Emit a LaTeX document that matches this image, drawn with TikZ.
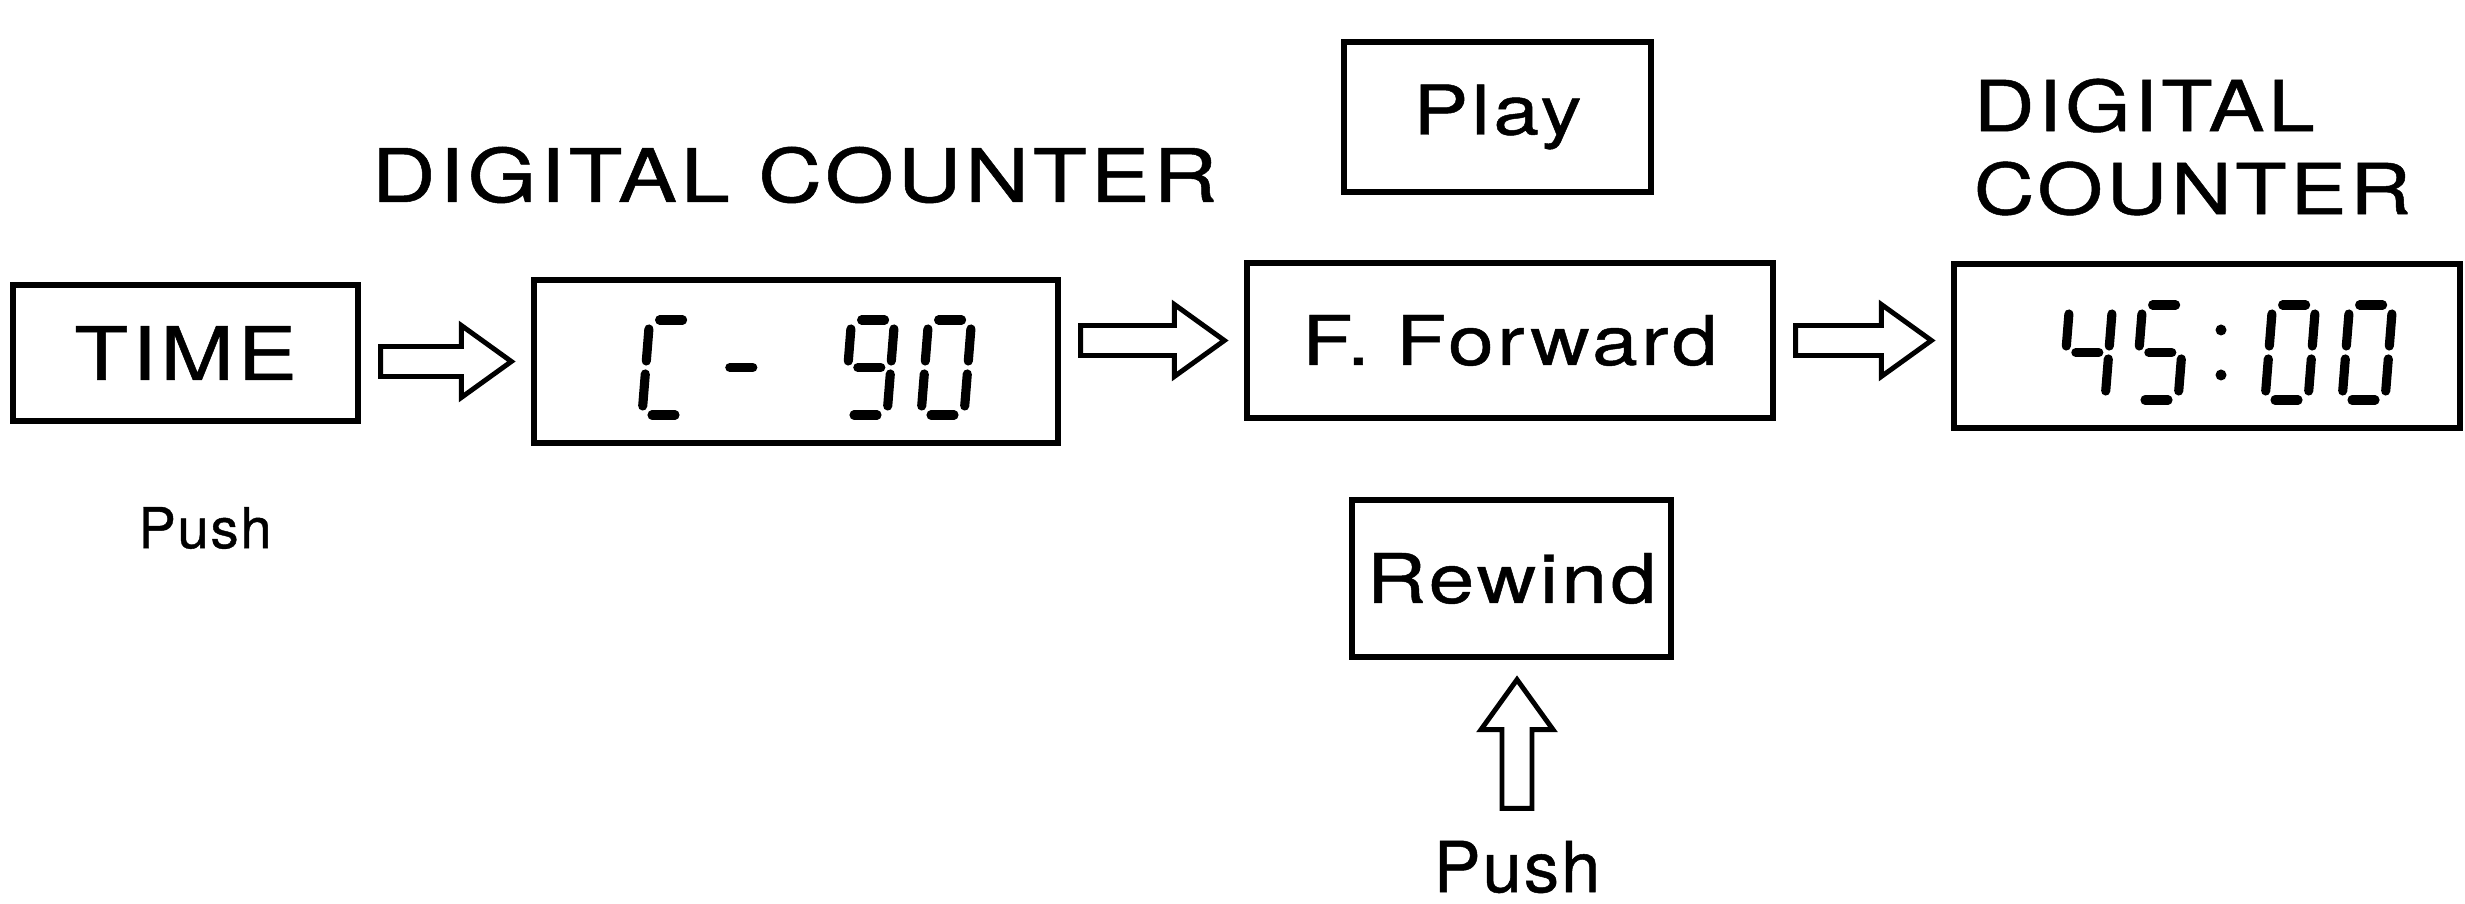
\documentclass[tikz,border=0pt]{standalone}
\usepackage{fontspec}
\setmainfont[FakeStretch=1.2, LetterSpace=5, FakeBold=0.7]{TeX Gyre Heros}
\newfontfamily\plainfont[LetterSpace=3, FakeBold=0.7]{TeX Gyre Heros}
\usetikzlibrary{calc}

% seven segment parts of one digit
\newcommand\segA{(0.1,0.95) -- (0.33,0.95)}
\newcommand\segB{(0.43,0.86) -- (0.43,0.54)}
\newcommand\segC{(0.43,0.41) -- (0.43,0.09)}
\newcommand\segD{(0.1,0) -- (0.33,0)}
\newcommand\segE{(0,0.41) -- (0,0.09)}
\newcommand\segF{(0,0.86) -- (0,0.54)}
\newcommand\segG{(0.1,0.475) -- (0.33,0.475)}
\newcommand\segdigit[2]{%
  \begin{scope}[shift={#1}, xslant=0.08]
    \foreach \s in {#2} {\draw[seg] \s;}
  \end{scope}}

\begin{document}
\begin{tikzpicture}[every node/.style={font=\fontsize{19.5}{24}\selectfont},
    panel/.style={draw, line width=1.5pt, inner sep=0pt},
    seg/.style={line width=2.6pt, line cap=round},
    fat/.style={line width=1.4pt, to path={
        ($(\tikztostart)!2mm!(\tikztotarget)$) coordinate (fat-s)
        ($(\tikztotarget)!2mm!(\tikztostart)$) coordinate (fat-t)
        ($(fat-t)!5mm!(fat-s)$) coordinate (fat-h)
        ($(fat-s)!1.5mm!90:(fat-t)$) -- ($(fat-h)!1.5mm!90:(fat-t)$)
        -- ($(fat-h)!3.6mm!90:(fat-t)$) -- (fat-t)
        -- ($(fat-h)!3.6mm!-90:(fat-t)$) -- ($(fat-h)!1.5mm!-90:(fat-t)$)
        -- ($(fat-s)!1.5mm!-90:(fat-t)$) -- cycle}}]
    \useasboundingbox (0,0) rectangle (24.65,9.04);

    \node[panel, minimum width=3.45cm, minimum height=1.36cm, font=\fontsize{21}{24}\selectfont] (time) at (1.855,5.51) {TIME};
    \node[panel, minimum width=5.24cm, minimum height=1.63cm] (c90) at (7.96,5.425) {};
    \node[panel, minimum width=5.26cm, minimum height=1.55cm] (ff) at (15.10,5.635) {F. Forward};
    \node[panel, minimum width=5.06cm, minimum height=1.64cm] (cnt) at (22.07,5.58) {};
    \node[panel, minimum width=3.07cm, minimum height=1.5cm] (play) at (14.975,7.87) {Play};
    \node[panel, minimum width=3.19cm, minimum height=1.57cm] (rew) at (15.115,3.255) {Rewind};
    \node[font=\fontsize{21}{24}\selectfont] (title) at (7.945,7.29) {DIGITAL COUNTER};
    \node[anchor=north west, align=left, inner sep=0pt, font=\fontsize{20}{23.6}\selectfont] (title2) at (19.73,8.26) {DIGITAL\\COUNTER};
    \node[font=\plainfont\fontsize{16}{19}\selectfont] (push) at (2.05,3.76) {Push};
    \node[font=\plainfont\fontsize{20}{24}\selectfont] (push2) at (15.17,0.37) {Push};

    % counter readings
    \begin{scope}[shift={(c90.center)}]
        \segdigit{(-1.54,-0.535)}{\segA,\segD,\segE,\segF}
        \segdigit{(-0.8,-0.535)}{\segG}
        \segdigit{(0.48,-0.535)}{\segA,\segB,\segC,\segD,\segF,\segG}
        \segdigit{(1.25,-0.535)}{\segA,\segB,\segC,\segD,\segE,\segF}
    \end{scope}
    \begin{scope}[shift={(cnt.center)}]
        \segdigit{(-1.45,-0.54)}{\segB,\segC,\segF,\segG}
        \segdigit{(-0.72,-0.54)}{\segA,\segC,\segD,\segF,\segG}
        \fill (0.14,0.16) circle (0.055);
        \fill (0.14,-0.29) circle (0.055);
        \segdigit{(0.58,-0.54)}{\segA,\segB,\segC,\segD,\segE,\segF}
        \segdigit{(1.35,-0.54)}{\segA,\segB,\segC,\segD,\segE,\segF}
    \end{scope}

    \draw[fat] (c90.west -| time.east) to (c90.west);
    \draw[fat] (c90.east |- ff.west) to (ff.west);
    \draw[fat] (ff.east) to (ff.east -| cnt.west);
    \draw[fat] (push2.north) to (push2.north |- rew.south);
\end{tikzpicture}
\end{document}
